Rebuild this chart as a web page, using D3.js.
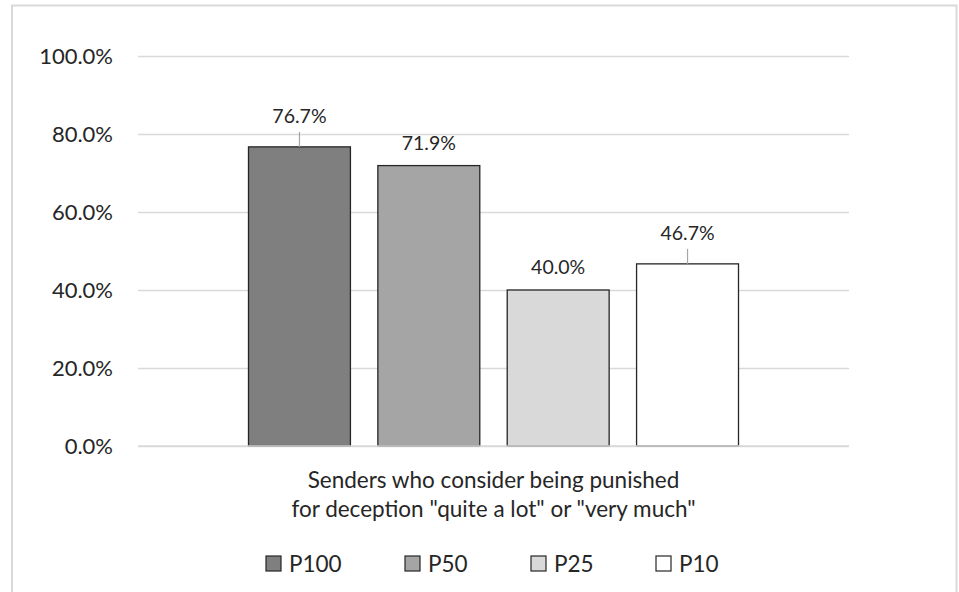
<!DOCTYPE html>
<html>
<head>
<meta charset="utf-8">
<script src="https://cdn.jsdelivr.net/npm/d3@7"></script>
<style>
  html, body { margin: 0; padding: 0; background: #fff; }
  svg text { font-family: Lato, "Open Sans", sans-serif; fill: #262626; }
</style>
</head>
<body>
<svg id="chart" width="959" height="592"></svg>
<script>
// ---- data ----
const categories = ["Senders who consider being punished", "for deception \"quite a lot\" or \"very much\""];
const series = ["P100", "P50", "P25", "P10"];
const values = [76.7, 71.9, 40.0, 46.7];
const seriesColors = ["#7f7f7f", "#a5a5a5", "#d9d9d9", "#ffffff"];
const labelWithLeader = [true, false, false, true];
const yTicks = [0, 20, 40, 60, 80, 100];

const svg = d3.select("#chart");

// outer frame
svg.append("rect")
  .attr("x", 12).attr("y", 5.5)
  .attr("width", 944.5).attr("height", 620)
  .attr("fill", "none").attr("stroke", "#d9d9d9").attr("stroke-width", 2);

const plot = { left: 138, right: 849, top: 56, bottom: 446 };

const y = d3.scaleLinear().domain([0, 100]).range([plot.bottom, plot.top]);
const x0 = d3.scaleBand().domain(["g"]).range([plot.left, plot.right]).paddingInner(0).paddingOuter(0.2255);
const x1 = d3.scaleBand().domain(series).range([0, x0.bandwidth()]).paddingInner(0.212).paddingOuter(0);

// gridlines + tick labels
const yAxis = d3.axisLeft(y).tickValues(yTicks)
  .tickSize(-(plot.right - plot.left))
  .tickPadding(25)
  .tickFormat(d => d3.format(".1f")(d) + "%");
const gAxis = svg.append("g").attr("transform", `translate(${plot.left},0)`).call(yAxis);
gAxis.select(".domain").remove();
gAxis.selectAll(".tick line").attr("stroke", "#d9d9d9").attr("stroke-width", 1.3);
gAxis.selectAll(".tick text")
  .attr("font-size", 22).attr("fill", "#262626")
  .style("font-family", "Lato, sans-serif");

// bars
const gBars = svg.append("g").attr("transform", `translate(${x0("g")},0)`);
gBars.selectAll("rect").data(series).join("rect")
  .attr("x", d => x1(d))
  .attr("y", (d, i) => y(values[i]))
  .attr("width", x1.bandwidth())
  .attr("height", (d, i) => y(0) - y(values[i]))
  .attr("fill", (d, i) => seriesColors[i])
  .attr("stroke", "#262626").attr("stroke-width", 1.3);

// value labels
series.forEach((s, i) => {
  const cx = x1(s) + x1.bandwidth() / 2;
  const top = y(values[i]);
  const lift = labelWithLeader[i] ? 24 : 16;
  if (labelWithLeader[i]) {
    gBars.append("line")
      .attr("x1", cx).attr("x2", cx)
      .attr("y1", top - 15).attr("y2", top)
      .attr("stroke", "#a6a6a6").attr("stroke-width", 1.2);
  }
  gBars.append("text")
    .attr("x", cx).attr("y", top - lift)
    .attr("text-anchor", "middle")
    .attr("font-size", 19.5)
    .text(d3.format(".1f")(values[i]) + "%");
});

// category axis label
const cx = (plot.left + plot.right) / 2;
svg.append("line").attr("x1", plot.left).attr("x2", plot.right)
  .attr("y1", plot.bottom).attr("y2", plot.bottom)
  .attr("stroke", "#d9d9d9").attr("stroke-width", 1.3);
categories.forEach((c, i) => {
  svg.append("text")
    .attr("x", cx).attr("y", 488 + i * 29)
    .attr("text-anchor", "middle")
    .attr("font-size", 22.5)
    .text(c);
});

// legend
const legendX = [266, 405, 531, 656];
const lg = svg.append("g");
series.forEach((s, i) => {
  lg.append("rect")
    .attr("x", legendX[i]).attr("y", 556)
    .attr("width", 15).attr("height", 15)
    .attr("fill", seriesColors[i]).attr("stroke", "#262626").attr("stroke-width", 1.2);
  lg.append("text")
    .attr("x", legendX[i] + 23).attr("y", 571.5)
    .attr("font-size", 22.5)
    .text(s);
});
</script>
</body>
</html>
